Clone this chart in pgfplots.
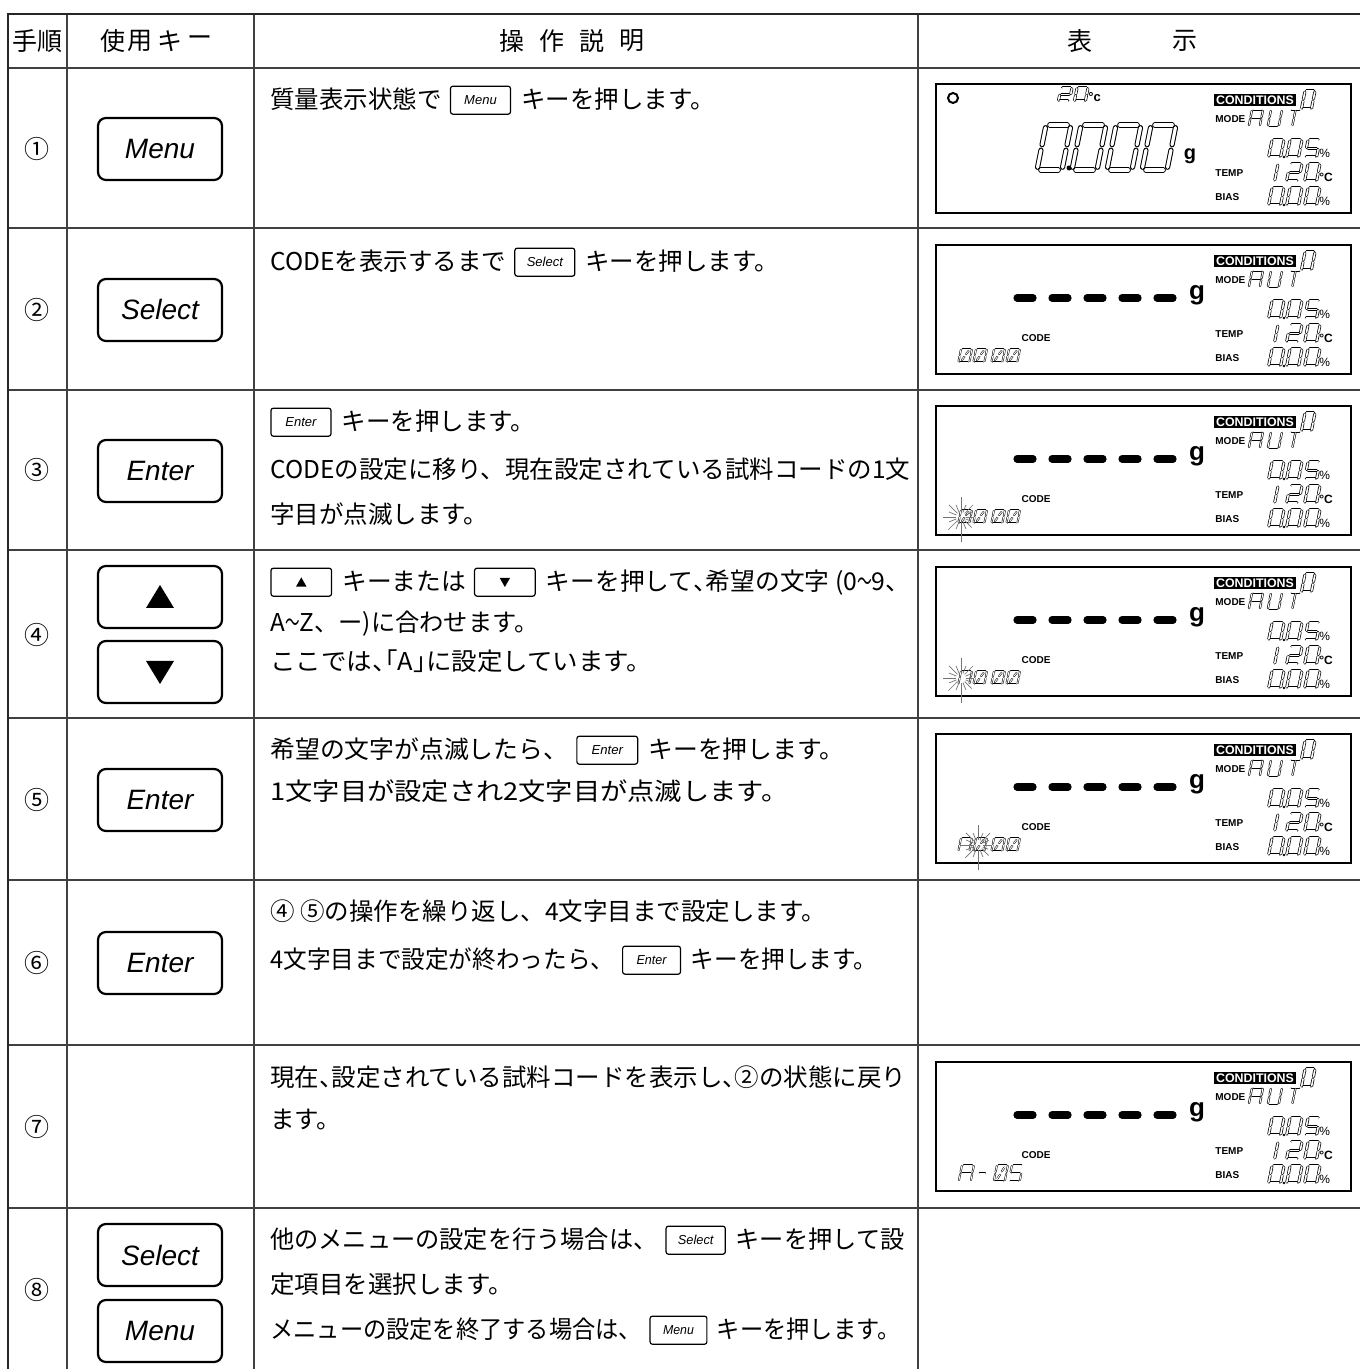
\documentclass[border=0pt]{standalone}
\usepackage{pgfplots}
\pgfplotsset{compat=1.18}
\usepackage{fontspec}
\setmainfont{Noto Sans CJK JP}
\newfontfamily\keyf{Liberation Sans}
\tikzset{
  jp/.style={font=\fontsize{12.25pt}{15pt}\selectfont, anchor=base west, inner sep=0pt},
  hd/.style={font=\fontsize{12.5pt}{15pt}\selectfont, inner sep=0pt},
  lbl/.style={font=\keyf\bfseries\fontsize{5pt}{5pt}\selectfont, inner sep=0pt},
  pct/.style={font=\keyf\fontsize{6pt}{6pt}\selectfont, inner sep=0pt},
  big/.style={line width=0.5pt, double=white, double distance=1.6pt, line cap=round},
  sm/.style={line width=0.35pt, double=white, double distance=0.8pt, line cap=round},
  th/.style={line width=0.3pt, double=white, double distance=0.5pt, line cap=round},
  tiny/.style={line width=0.25pt, double=white, double distance=0.45pt, line cap=round},
}
% segment pieces (unit cell: width 1, height 2, y downward)
\newcommand\sga[1]{\draw[#1] (0.15,0)--(0.85,0);}
\newcommand\sgb[1]{\draw[#1] (1,0.12)--(1,0.88);}
\newcommand\sgc[1]{\draw[#1] (1,1.12)--(1,1.88);}
\newcommand\sgd[1]{\draw[#1] (0.15,2)--(0.85,2);}
\newcommand\sge[1]{\draw[#1] (0,1.12)--(0,1.88);}
\newcommand\sgf[1]{\draw[#1] (0,0.12)--(0,0.88);}
\newcommand\sgg[1]{\draw[#1] (0.15,1)--(0.85,1);}
\newcommand\sgi[1]{\draw[#1] (0.5,0.12)--(0.5,0.88);}
\newcommand\sgj[1]{\draw[#1] (0.5,1.12)--(0.5,1.88);}
\newcommand\sgk[1]{\draw[#1] (0.72,0.3)--(0.55,0.8);}
\newcommand\sgl[1]{\draw[#1] (0.45,1.2)--(0.28,1.7);}
\newcommand\lcd[6]{\begin{scope}[shift={(#1,#2)},xslant=0.2,xscale=#3,yscale=#4]\foreach \s in {#5}{\csname sg\s\endcsname{#6}}\end{scope}}
% horizontal fit of a text line (width in pt)
\newcommand\fit[2]{\resizebox{#1pt}{\height}{#2}}
\newcommand\hc[1]{\makebox[0.5em][l]{#1}}
\newcommand\ho[1]{\makebox[0.5em][r]{#1}}
% inline keys
\newcommand\ik[1]{\hspace{4pt}\tikz[baseline={([yshift=-4.4pt]k.center)}]{\node[draw,line width=0.6pt,rounded corners=1.2pt,minimum width=30pt,minimum height=14pt,inner sep=0pt,font=\keyf\itshape\fontsize{6.5pt}{7pt}\selectfont](k){#1};}\hspace{5pt}}
\newcommand\ikup{\tikz[baseline={([yshift=-4.4pt]k.center)}]{\node[draw,line width=0.6pt,rounded corners=1.2pt,minimum width=30pt,minimum height=14pt,inner sep=0pt](k){};\fill ([xshift=-2.6pt,yshift=-2.2pt]k.center)--([xshift=2.6pt,yshift=-2.2pt]k.center)--([yshift=2.4pt]k.center)--cycle;}\hspace{5pt}}
\newcommand\ikdown{\hspace{4pt}\tikz[baseline={([yshift=-4.4pt]k.center)}]{\node[draw,line width=0.6pt,rounded corners=1.2pt,minimum width=30pt,minimum height=14pt,inner sep=0pt](k){};\fill ([xshift=-2.6pt,yshift=2.2pt]k.center)--([xshift=2.6pt,yshift=2.2pt]k.center)--([yshift=-2.4pt]k.center)--cycle;}\hspace{5pt}}
% big keys
\newcommand\bkey[2]{\draw[line width=1.1pt,rounded corners=4pt] (98,#1-31) rectangle (222,#1+31);
  \node[font=\keyf\itshape\fontsize{14pt}{16pt}\selectfont,inner sep=0pt] at (160,#1) {#2};}
\newcommand\bkeyup[1]{\draw[line width=1.1pt,rounded corners=4pt] (98,#1-31) rectangle (222,#1+31);
  \fill (146,#1+11)--(174,#1+11)--(160,#1-12)--cycle;}
\newcommand\bkeydown[1]{\draw[line width=1.1pt,rounded corners=4pt] (98,#1-31) rectangle (222,#1+31);
  \fill (146,#1-11)--(174,#1-11)--(160,#1+12)--cycle;}
% blinking mark
\newcommand\blink[2]{\foreach \a/\l in {90/20,112.5/8,135/13,157.5/8,180/13,202.5/8,225/12,247.5/8,270/15,292.5/8,315/12,337.5/7,0/8,22.5/6,45/10,67.5/8}{\draw[black!55,line width=0.35pt] (#1,#2) ++(\a:5) -- ++(\a:\l);}}
% right part of LCD panel
\newcommand\rpanel[1]{%
 \node[fill=black,text=white,font=\keyf\bfseries\fontsize{6.2pt}{6.2pt}\selectfont,inner sep=0.8pt] at (1255,#1+16) {CONDITIONS};
 \lcd{1305}{#1+7}{10}{9}{a,b,c,d,e,f}{sm}
 \node[lbl,anchor=west] at (1215,#1+35) {MODE};
 \lcd{1252}{#1+26}{11}{8}{a,b,c,e,f,g}{th}
 \lcd{1271}{#1+26}{11}{8}{b,c,d,e,f}{th}
 \lcd{1290}{#1+26}{11}{8}{a,i,j}{th}
 \lcd{1272}{#1+56}{12}{8.5}{a,b,c,d,e,f}{sm}
 \fill (1284,#1+73) circle[radius=1.4];
 \lcd{1290}{#1+56}{12}{8.5}{a,b,c,d,e,f}{sm}
 \lcd{1308}{#1+56}{12}{8.5}{a,f,g,c,d}{sm}
 \node[pct,anchor=west] at (1319,#1+69) {\%};
 \node[lbl,anchor=west] at (1215,#1+89) {TEMP};
 \lcd{1266}{#1+80}{12}{8.5}{b,c}{sm}
 \lcd{1290}{#1+80}{12}{8.5}{a,b,g,e,d}{sm}
 \lcd{1308}{#1+80}{12}{8.5}{a,b,c,d,e,f}{sm}
 \node[pct,anchor=west,font=\keyf\bfseries\fontsize{6pt}{6pt}\selectfont] at (1319,#1+93) {°C};
 \node[lbl,anchor=west] at (1215,#1+113) {BIAS};
 \lcd{1272}{#1+104}{12}{8.5}{a,b,c,d,e,f}{sm}
 \fill (1284,#1+121) circle[radius=1.4];
 \lcd{1290}{#1+104}{12}{8.5}{a,b,c,d,e,f}{sm}
 \lcd{1308}{#1+104}{12}{8.5}{a,b,c,d,e,f}{sm}
 \node[pct,anchor=west] at (1319,#1+117) {\%};
}
\newcommand\dpanel[1]{%
 \draw[line width=0.8pt] (936,#1) rectangle (1351,#1+129);
 \rpanel{#1}
 \foreach \cx in {1025,1060,1095,1130,1165}{\draw[line width=3.6pt,line cap=round] (\cx-8,#1+53)--(\cx+8,#1+53);}
 \node[font=\keyf\bfseries\fontsize{13pt}{13pt}\selectfont,inner sep=0pt] at (1197,#1+50) {g};
 \node[lbl] at (1036,#1+93) {CODE};
}
\newcommand\zerocode[2]{\lcd{#1}{#2}{11}{6.5}{a,b,c,d,e,f,k,l}{tiny}}
\newcommand\Acode[2]{\lcd{#1}{#2}{11}{6.5}{a,b,c,e,f,g}{tiny}}
\begin{document}
\begin{tikzpicture}
\begin{axis}[scale only axis, width=680pt, height=684.5pt,
  xmin=0, xmax=1360, ymin=0, ymax=1369, y dir=reverse,
  hide axis, clip=false]
\addplot[black!75, line width=1pt, unbounded coords=jump, forget plot] coordinates {
 (8,68) (1360,68) (nan,nan)
 (8,228) (1360,228) (nan,nan)
 (8,390) (1360,390) (nan,nan)
 (8,550) (1360,550) (nan,nan)
 (8,718) (1360,718) (nan,nan)
 (8,880) (1360,880) (nan,nan)
 (8,1045) (1360,1045) (nan,nan)
 (8,1208) (1360,1208) (nan,nan)
 (67,14) (67,1369) (nan,nan)
 (254,14) (254,1369) (nan,nan)
 (918,14) (918,1369)
};
\addplot[black!85, line width=1.4pt, forget plot] coordinates {(8,1369) (8,14) (1360,14)};
\end{axis}
\begin{scope}[x=0.5pt,y=-0.5pt,shift={(0pt,684.5pt)}]
% header
\node[hd] at (37,41) {手順};
\node[hd] at (113,41) {使}; \node[hd] at (140,41) {用}; \node[hd] at (170,41) {キ}; \node[hd] at (200,41) {ー};
\node[hd] at (512,41) {操}; \node[hd] at (552,41) {作}; \node[hd] at (592,41) {説}; \node[hd] at (632,41) {明};
\node[hd] at (1080,41) {表}; \node[hd] at (1185,41) {示};
% step numbers
\node[hd] at (37,149) {①};
\node[hd] at (37,310) {②};
\node[hd] at (37,470) {③};
\node[hd] at (37,635) {④};
\node[hd] at (37,800) {⑤};
\node[hd] at (37,963) {⑥};
\node[hd] at (37,1127) {⑦};
\node[hd] at (37,1290) {⑧};
% keys
\bkey{149}{Menu}
\bkey{310}{Select}
\bkey{471}{Enter}
\bkeyup{597}
\bkeydown{672}
\bkey{800}{Enter}
\bkey{963}{Enter}
\bkey{1255}{Select}
\bkey{1331}{Menu}
% descriptions
\node[jp] at (270,109) {質量表示状態で\ik{Menu}キーを押します。};
\node[jp] at (270,271) {CODEを表示するまで\ik{Select}キーを押します。};
\node[jp] at (270,431) {\hspace*{-4pt}\ik{Enter}キーを押します。};
\node[jp] at (270,479) {CODEの設定に移り、現在設定されている試料コードの1文};
\node[jp] at (270,524) {字目が点滅します。};
\node[jp] at (270,591) {\fit{320}{\ikup キーまたは\ikdown キーを押して\hc{、}希望の文字 (0\scalebox{0.6}[1]{〜}9、}};
\node[jp] at (270,632) {\fit{134}{A\scalebox{0.6}[1]{〜}Z、ー)に合わせます。}};
\node[jp] at (270,671) {\fit{191}{ここでは\hc{、}\ho{「}A\hc{」}に設定しています。}};
\node[jp] at (270,759) {\fit{287}{希望の文字が点滅したら、\ik{Enter}キーを押します。}};
\node[jp] at (270,801) {\fit{259}{1文字目が設定され2文字目が点滅します。}};
\node[jp] at (270,921) {④ ⑤の操作を繰り返し、4文字目まで設定します。};
\node[jp] at (270,969) {\fit{303.5}{4文字目まで設定が終わったら、\ik{Enter}キーを押します。}};
\node[jp] at (270,1087) {\fit{318}{現在\hc{、}設定されている試料コードを表示し\hc{、}②の状態に戻り}};
\node[jp] at (270,1129) {ます。};
\node[jp] at (270,1249) {\fit{317}{他のメニューの設定を行う場合は、\ik{Select}キーを押して設}};
\node[jp] at (270,1294) {定項目を選択します。};
\node[jp] at (270,1339) {\fit{315}{メニューの設定を終了する場合は、\ik{Menu}キーを押します。}};
% panel 1
\draw[line width=0.8pt] (936,84) rectangle (1351,213);
\rpanel{84}
\draw[line width=1pt] (953,98) circle[radius=5];
\lcd{1061}{88}{11}{6.5}{a,b,g,e,d}{sm}
\lcd{1077}{88}{11}{6.5}{a,b,c,d,e,f}{sm}
\node[font=\keyf\bfseries\fontsize{6.5pt}{6.5pt}\selectfont,inner sep=0pt,anchor=west] at (1088,97) {°c};
\lcd{1046}{125}{25}{22.5}{a,b,c,d,e,f}{big}
\lcd{1081}{125}{25}{22.5}{a,b,c,d,e,f}{big}
\lcd{1116}{125}{25}{22.5}{a,b,c,d,e,f}{big}
\lcd{1151}{125}{25}{22.5}{a,b,c,d,e,f}{big}
\fill (1069,168) circle[radius=2.5];
\node[font=\keyf\bfseries\fontsize{10pt}{10pt}\selectfont,inner sep=0pt] at (1190,156) {g};
% panel 2
\dpanel{245}
\zerocode{961}{349}\zerocode{976}{349}\zerocode{994}{349}\zerocode{1009}{349}
% panel 3
\dpanel{406}
\zerocode{961}{510}\zerocode{976}{510}\zerocode{994}{510}\zerocode{1009}{510}
\blink{961}{517}
% panel 4
\dpanel{567}
\Acode{961}{671}\zerocode{976}{671}\zerocode{994}{671}\zerocode{1009}{671}
\blink{961}{678}
% panel 5
\dpanel{734}
\Acode{961}{838}\zerocode{976}{838}\zerocode{994}{838}\zerocode{1009}{838}
\blink{978}{845}
% panel 7
\dpanel{1062}
\lcd{962}{1165}{12}{8}{a,b,c,e,f,g}{tiny}
\lcd{980}{1165}{8}{8}{g}{tiny}
\lcd{997}{1165}{11}{8}{a,b,c,d,e,f,k,l}{tiny}
\lcd{1012}{1165}{11}{8}{a,f,g,c,d}{tiny}
\pgfresetboundingbox
\path[use as bounding box] (0,0) rectangle (1360,1369);
\end{scope}
\end{tikzpicture}
\end{document}
